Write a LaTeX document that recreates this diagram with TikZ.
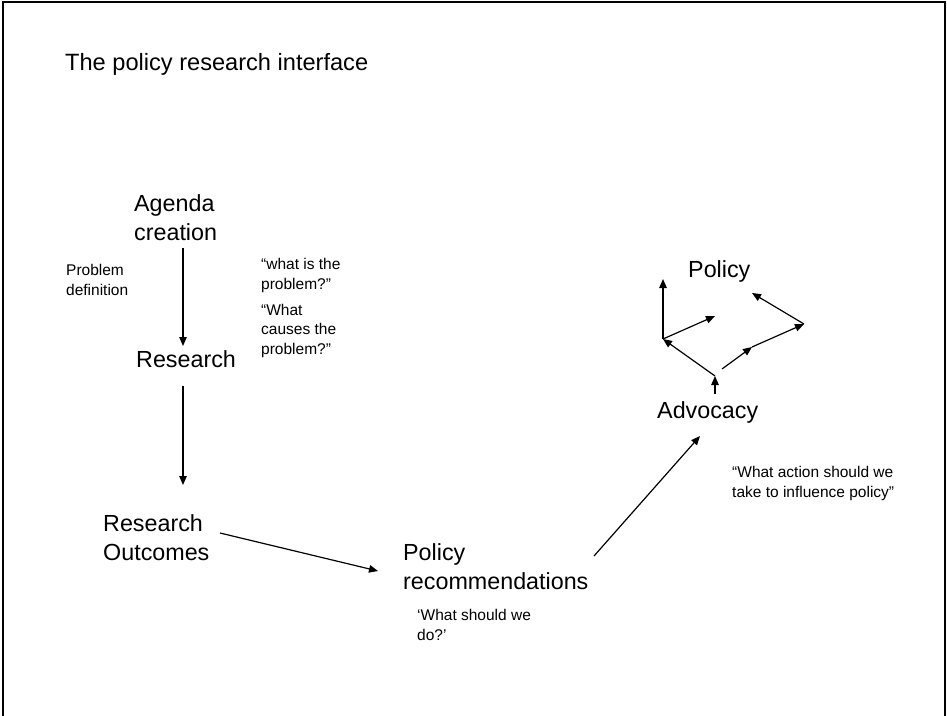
\documentclass[tikz,border=0pt]{standalone}
\usepackage{fontspec}
\setmainfont{Liberation Sans}
\usetikzlibrary{arrows.meta}
\tikzset{
  big/.style={font=\fontsize{23.3}{28.5}\selectfont, inner sep=0pt, anchor=base west, align=left},
  small/.style={font=\fontsize{15.5}{19.5}\selectfont, inner sep=0pt, anchor=base west, align=left},
  conn/.style={line width=1.2pt, -{Triangle[length=9pt,width=7.5pt]}},
  frame/.style={line width=2pt}
}
\begin{document}
\begin{tikzpicture}[x=1pt,y=-1pt]
\useasboundingbox (0,0) rectangle (947,715);
% frame (open at bottom)
\coordinate (f1) at (2.5,716);
\coordinate (f2) at (2.5,1.5);
\coordinate (f3) at (944.5,1.5);
\coordinate (f4) at (944.5,716);
\draw[frame] (f1) -- (f2) -- (f3) -- (f4);

% title
\node[big, font=\fontsize{23.6}{28}\selectfont] (title) at (65,70) {The policy research interface};

% main labels (anchor = baseline of the last line)
\node[big] (agenda) at (134,240) {Agenda\\creation};
\node[big] (research) at (136,367) {Research};
\node[big] (outcomes) at (103,560) {Research\\Outcomes};
\node[big] (recs) at (403,589) {Policy\\recommendations};
\node[big] (advocacy) at (657,418) {Advocacy};
\node[big] (policy) at (688,277) {Policy};

% small labels (anchor = baseline of the last line)
\node[small] (probdef) at (66,295) {Problem\\definition};
\node[small] (q1) at (261,289) {“what is the\\problem?”};
\node[small] (q2) at (261,354) {“What\\causes the\\problem?”};
\node[small] (q3) at (417,640) {‘What should we\\do?’};
\node[small] (q4) at (732,497) {“What action should we\\take to influence policy”};

% chain arrows
\coordinate (a1s) at (183,248);
\coordinate (a1e) at (183,346);
\draw[conn] (a1s) -- (a1e);
\coordinate (a2s) at (183,386);
\coordinate (a2e) at (183,485);
\draw[conn] (a2s) -- (a2e);
\coordinate (a3s) at (220,533);
\coordinate (a3e) at (378,571);
\draw[conn] (a3s) -- (a3e);
\coordinate (a4s) at (594,556);
\coordinate (a4e) at (700,436);
\draw[conn] (a4s) -- (a4e);

% policy cluster
\coordinate (p0) at (715,394);
\coordinate (p1) at (715,376);
\coordinate (p2) at (663,339);
\coordinate (p3) at (663,279);
\coordinate (p4) at (715,316);
\coordinate (p5) at (722,369);
\coordinate (p6) at (752,347);
\coordinate (p7) at (804,324);
\coordinate (p8) at (752,293);
\draw[conn] (p0) -- (p1);
\draw[conn] (p1) -- (p2);
\draw[conn] (p2) -- (p3);
\draw[conn] (p2) -- (p4);
\draw[conn] (p5) -- (p6);
\draw[conn] (p6) -- (p7);
\draw[conn] (p7) -- (p8);
\end{tikzpicture}
\end{document}
